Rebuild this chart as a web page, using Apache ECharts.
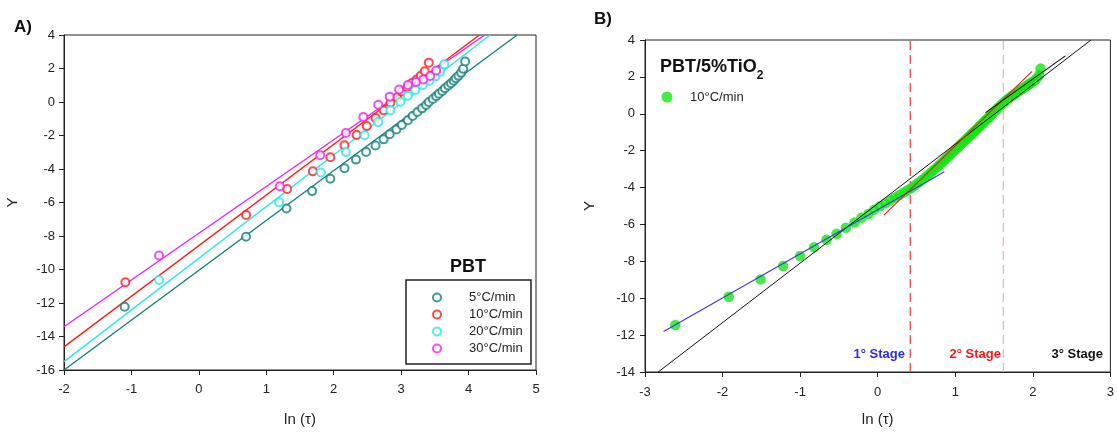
<!DOCTYPE html>
<html>
<head>
<meta charset="utf-8">
<script src="https://cdn.jsdelivr.net/npm/echarts@6/dist/echarts.min.js"></script>
<style>
  html, body { margin: 0; padding: 0; background: #fff; }
  #chart { width: 1117px; height: 432px; }
</style>
</head>
<body>
<div id="chart"></div>
<script>
// ---- Panel A: PBT, Avrami-type plot Y vs ln(tau) at four cooling rates ----
const ratesA = ['5°C/min', '10°C/min', '20°C/min', '30°C/min'];
const colorsA = ['#138079', '#ff1a1a', '#2ae6e6', '#ee22ee'];

const x5 = [-1.10, 0.70, 1.30, 1.68, 1.95, 2.16, 2.33, 2.48, 2.62, 2.74, 2.83, 2.93, 3.01, 3.10, 3.17, 3.24,
            3.31, 3.37, 3.41, 3.47, 3.52, 3.56, 3.61, 3.65, 3.70, 3.74, 3.78, 3.81, 3.85, 3.89, 3.92, 3.95];
const y5 = [-12.22, -8.04, -6.36, -5.32, -4.58, -3.96, -3.44, -2.99, -2.60, -2.23, -1.93, -1.64, -1.37, -1.09, -0.84, -0.60,
            -0.38, -0.18, 0.00, 0.18, 0.35, 0.50, 0.66, 0.82, 0.98, 1.12, 1.27, 1.42, 1.56, 1.74, 1.98, 2.42];

const x10 = [-1.09, 0.70, 1.31, 1.69, 1.95, 2.16, 2.34, 2.49, 2.62, 2.74, 2.84, 2.94, 3.01, 3.09, 3.16, 3.23, 3.29, 3.35, 3.41];
const y10 = [-10.76, -6.75, -5.19, -4.14, -3.30, -2.58, -1.97, -1.44, -0.96, -0.49, -0.05, 0.28, 0.62, 0.88, 1.13, 1.34, 1.57, 1.84, 2.35];

const x20 = [-0.59, 1.19, 1.81, 2.18, 2.46, 2.66, 2.84, 2.99, 3.10, 3.21, 3.32, 3.42, 3.51, 3.58, 3.64];
const y20 = [-10.63, -5.99, -4.21, -2.98, -1.99, -1.20, -0.49, 0.01, 0.38, 0.72, 1.01, 1.27, 1.53, 1.80, 2.25];

const x30 = [-0.59, 1.20, 1.80, 2.18, 2.44, 2.66, 2.83, 2.97, 3.10, 3.22, 3.33, 3.43, 3.52];
const y30 = [-9.17, -5.03, -3.18, -1.85, -0.89, -0.16, 0.32, 0.75, 1.02, 1.20, 1.35, 1.55, 1.88];

// fitted straight lines (end points in data units)
const fit5  = [[-2, -16.00], [4.72, 4]];
const fit10 = [[-2, -14.62], [4.16, 4]];
const fit20 = [[-2, -15.50], [4.32, 4]];
const fit30 = [[-2, -13.42], [4.24, 4]];

// ---- Panel B: PBT/5%TiO2 at 10°C/min, three crystallization stages ----
const xB = [-2.61, -1.92, -1.51, -1.22, -1.00, -0.82, -0.66, -0.53, -0.41, -0.30, -0.21, -0.12, -0.045,
  0.029, 0.098, 0.163, 0.223, 0.280, 0.334, 0.385, 0.434, 0.481, 0.525, 0.568, 0.609, 0.648, 0.686, 0.722,
  0.757, 0.791, 0.824, 0.856, 0.887, 0.917, 0.946, 0.974, 1.002, 1.029, 1.055, 1.080, 1.105, 1.129, 1.152,
  1.175, 1.198, 1.220, 1.241, 1.262, 1.283, 1.303, 1.323, 1.342, 1.361, 1.380, 1.398, 1.416, 1.434, 1.451,
  1.468, 1.485, 1.518, 1.550, 1.580, 1.610, 1.639, 1.667, 1.695, 1.721, 1.747, 1.773, 1.797, 1.821, 1.845,
  1.868, 1.890, 1.912, 1.934, 1.955, 1.975, 1.995, 2.025, 2.053, 2.081, 2.100];
const yB = [-11.45, -9.92, -8.98, -8.25, -7.71, -7.24, -6.83, -6.51, -6.18, -5.90, -5.64, -5.43, -5.21,
  -5.02, -4.85, -4.69, -4.54, -4.40, -4.27, -4.14, -4.02, -3.88, -3.74, -3.60, -3.46, -3.32, -3.18, -3.05,
  -2.92, -2.79, -2.66, -2.53, -2.41, -2.29, -2.17, -2.05, -1.94, -1.83, -1.73, -1.63, -1.53, -1.43, -1.34,
  -1.25, -1.15, -1.06, -0.97, -0.89, -0.81, -0.72, -0.64, -0.56, -0.48, -0.40, -0.33, -0.25, -0.18, -0.11,
  -0.03, 0.04, 0.18, 0.31, 0.44, 0.56, 0.66, 0.76, 0.85, 0.93, 1.01, 1.09, 1.16, 1.23, 1.30,
  1.36, 1.43, 1.49, 1.55, 1.61, 1.67, 1.72, 1.82, 1.93, 2.10, 2.45];

const fitStage1 = [[-2.76, -11.80], [0.86, -3.14]];
const fitStage2 = [[0.08, -5.50], [1.99, 2.30]];
const fitStage3 = [[1.39, 0.06], [2.42, 3.14]];
const fitAll    = [[-2.83, -14.00], [2.75, 4]];
const stageBounds = [0.42, 1.62];

const FONT = '"Liberation Sans", Arial, Helvetica, sans-serif';
const zip = (xs, ys) => xs.map((x, i) => [x, ys[i]]);

function axisCommon(extra) {
  return Object.assign({
    type: 'value',
    axisLine: { onZero: false, lineStyle: { color: '#222', width: 1 } },
    axisTick: { show: true, length: 5, lineStyle: { color: '#222' } },
    splitLine: { show: false },
    axisLabel: { fontSize: 13, color: '#222', fontFamily: FONT },
    nameLocation: 'middle',
    nameTextStyle: { fontSize: 15, color: '#222', fontFamily: FONT }
  }, extra);
}

const seriesA = [];
[[x5, y5], [x10, y10], [x20, y20], [x30, y30]].forEach(([xs, ys], i) => {
  seriesA.push({
    name: ratesA[i], type: 'scatter', xAxisIndex: 0, yAxisIndex: 0,
    symbol: 'emptyCircle', symbolSize: 8,
    itemStyle: { color: colorsA[i], borderColor: colorsA[i], borderWidth: 1.6 },
    data: zip(xs, ys), z: 3
  });
});
[fit5, fit10, fit20, fit30].forEach((f, i) => {
  seriesA.push({
    name: 'fit ' + ratesA[i], type: 'line', xAxisIndex: 0, yAxisIndex: 0,
    showSymbol: false, silent: true, data: f,
    lineStyle: { color: colorsA[i], width: 1.4 }, z: 2
  });
});

const seriesB = [
  {
    name: 'TiO2 10°C/min', type: 'scatter', xAxisIndex: 1, yAxisIndex: 1,
    symbol: 'circle', symbolSize: 10.5, itemStyle: { color: '#14e614' },
    data: zip(xB, yB), z: 2
  },
  { name: 'all stages', type: 'line', xAxisIndex: 1, yAxisIndex: 1, showSymbol: false, silent: true,
    data: fitAll, lineStyle: { color: '#111', width: 1 }, z: 3 },
  { name: 'stage 1', type: 'line', xAxisIndex: 1, yAxisIndex: 1, showSymbol: false, silent: true,
    data: fitStage1, lineStyle: { color: '#3a3ae6', width: 1.1 }, z: 4 },
  { name: 'stage 2', type: 'line', xAxisIndex: 1, yAxisIndex: 1, showSymbol: false, silent: true,
    data: fitStage2, lineStyle: { color: '#ee1c1c', width: 1.1 }, z: 4 },
  { name: 'stage 3', type: 'line', xAxisIndex: 1, yAxisIndex: 1, showSymbol: false, silent: true,
    data: fitStage3, lineStyle: { color: '#111', width: 1.1 }, z: 4 },
  { name: 'bound 1', type: 'line', xAxisIndex: 1, yAxisIndex: 1, showSymbol: false, silent: true,
    data: [[stageBounds[0], -14], [stageBounds[0], 4]],
    lineStyle: { color: '#f04545', width: 1.3, type: [9, 5] }, z: 1 },
  { name: 'bound 2', type: 'line', xAxisIndex: 1, yAxisIndex: 1, showSymbol: false, silent: true,
    data: [[stageBounds[1], -14], [stageBounds[1], 4]],
    lineStyle: { color: '#f8b4b4', width: 1.3, type: [9, 5] }, z: 1 }
];

const chart = echarts.init(document.getElementById('chart'), null, { renderer: 'canvas' });
chart.setOption({
  animation: false,
  backgroundColor: '#fff',
  textStyle: { fontFamily: FONT },
  grid: [
    { left: 64, top: 35, width: 472, height: 337, show: true, borderColor: '#222', borderWidth: 1, backgroundColor: 'transparent' },
    { left: 645, top: 40, width: 466, height: 334, show: true, borderColor: '#222', borderWidth: 1, backgroundColor: 'transparent' }
  ],
  xAxis: [
    axisCommon({ gridIndex: 0, min: -2, max: 5, interval: 1, name: 'ln (τ)', nameGap: 42,
      axisLabel: { fontSize: 13, color: '#222', margin: 13 } }),
    axisCommon({ gridIndex: 1, min: -3, max: 3, interval: 1, name: 'ln (τ)', nameGap: 40,
      axisLabel: { fontSize: 13, color: '#222', margin: 14 } })
  ],
  yAxis: [
    axisCommon({ gridIndex: 0, min: -16, max: 4, interval: 2, name: 'Y', nameGap: 44,
      axisLabel: { fontSize: 13, color: '#222', margin: 9 } }),
    axisCommon({ gridIndex: 1, min: -14, max: 4, interval: 2, name: 'Y', nameGap: 48,
      axisLabel: { fontSize: 13, color: '#222', margin: 10 } })
  ],
  legend: [
    {
      data: ratesA, orient: 'vertical', left: 432, top: 291, padding: 0,
      itemWidth: 8, itemHeight: 8, itemGap: 4,
      icon: 'emptyCircle',
      itemStyle: { borderWidth: 1.7 },
      textStyle: { fontSize: 13, color: '#222', lineHeight: 12.6, padding: [0, 0, 0, 23] },
      selectedMode: false
    },
    {
      data: ['TiO2 10°C/min'], orient: 'vertical', left: 661.5, top: 90.5, padding: 0,
      itemWidth: 11, itemHeight: 11, icon: 'circle',
      formatter: () => '10°C/min',
      textStyle: { fontSize: 13, color: '#222', padding: [0, 0, 0, 12.5] },
      selectedMode: false
    }
  ],
  graphic: [
    { type: 'text', left: 14, top: 19, style: { text: 'A)', font: 'bold 17px ' + FONT, fill: '#111' } },
    { type: 'text', left: 594, top: 11, style: { text: 'B)', font: 'bold 17px ' + FONT, fill: '#111' } },
    { type: 'rect', shape: { x: 406, y: 280, width: 125, height: 84 },
      style: { fill: 'none', stroke: '#222', lineWidth: 1.5 }, z: 10 },
    { type: 'text', x: 468, y: 267, style: { text: 'PBT', font: 'bold 18px ' + FONT, fill: '#111',
      align: 'center', verticalAlign: 'middle' }, z: 10 },
    { type: 'text', x: 660, y: 58, z: 10,
      style: {
        text: '{a|PBT/5%TiO}{s|2}',
        fill: '#111',
        rich: {
          a: { font: 'bold 18px ' + FONT, lineHeight: 24, verticalAlign: 'top' },
          s: { font: 'bold 12px ' + FONT, lineHeight: 12, verticalAlign: 'bottom' }
        }
      } },
    { type: 'text', x: 905, y: 354, z: 10, style: { text: '1° Stage', font: 'bold 13px ' + FONT, fill: '#2d2de6',
      align: 'right', verticalAlign: 'middle' } },
    { type: 'text', x: 1001, y: 354, z: 10, style: { text: '2° Stage', font: 'bold 13px ' + FONT, fill: '#ee1c1c',
      align: 'right', verticalAlign: 'middle' } },
    { type: 'text', x: 1103, y: 354, z: 10, style: { text: '3° Stage', font: 'bold 13px ' + FONT, fill: '#111',
      align: 'right', verticalAlign: 'middle' } }
  ],
  series: seriesA.concat(seriesB)
});
</script>
</body>
</html>
